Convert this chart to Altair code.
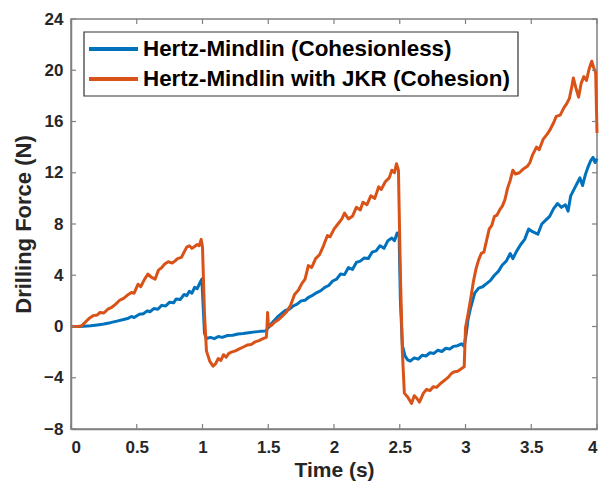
import altair as alt
import pandas as pd

SERIES = ["Hertz-Mindlin (Cohesionless)", "Hertz-Mindlin with JKR (Cohesion)"]
COLORS = ["#0072BD", "#D95319"]

blue_t = [0.00, 0.05, 0.10, 0.15, 0.20, 0.25, 0.30, 0.35, 0.40, 0.43, 0.46, 0.48, 0.52, 0.55, 0.58, 0.60,
          0.63, 0.66, 0.69, 0.72, 0.75, 0.78, 0.80, 0.83, 0.86, 0.88, 0.90, 0.92, 0.94, 0.96, 0.98, 0.995,
          1.015, 1.03, 1.06, 1.09, 1.12, 1.15, 1.19, 1.23, 1.27, 1.31, 1.35, 1.40, 1.44, 1.48, 1.50, 1.53,
          1.57, 1.60, 1.63, 1.66, 1.69, 1.72, 1.75, 1.78, 1.81, 1.84, 1.87, 1.90, 1.93, 1.96, 1.99, 2.02,
          2.05, 2.08, 2.11, 2.14, 2.17, 2.20, 2.23, 2.26, 2.29, 2.32, 2.35, 2.38, 2.41, 2.44, 2.46, 2.48,
          2.495, 2.505, 2.52, 2.54, 2.56, 2.58, 2.61, 2.64, 2.67, 2.70, 2.73, 2.76, 2.79, 2.82, 2.85, 2.88,
          2.91, 2.94, 2.97, 2.99, 3.005, 3.02, 3.04, 3.07, 3.10, 3.13, 3.16, 3.19, 3.22, 3.25, 3.28, 3.31,
          3.34, 3.36, 3.39, 3.42, 3.45, 3.48, 3.51, 3.55, 3.58, 3.61, 3.64, 3.67, 3.70, 3.73, 3.76, 3.78,
          3.80, 3.83, 3.85, 3.87, 3.89, 3.91, 3.93, 3.95, 3.97, 3.985, 4.00]
blue_y = [0.00, 0.00, 0.02, 0.05, 0.12, 0.20, 0.30, 0.42, 0.55, 0.62, 0.78, 0.70, 0.95, 1.00, 1.22, 1.15,
          1.40, 1.35, 1.65, 1.60, 1.90, 1.85, 2.15, 2.10, 2.50, 2.40, 2.75, 2.60, 3.05, 2.95, 3.40, 3.70,
          -0.50, -0.95, -0.85, -0.95, -0.78, -0.85, -0.70, -0.68, -0.58, -0.55, -0.48, -0.42, -0.38, -0.35, -0.10, 0.30,
          0.75, 1.00, 1.25, 1.35, 1.60, 1.75, 2.00, 2.05, 2.30, 2.45, 2.65, 2.80, 3.05, 3.20, 3.55, 3.70,
          4.10, 4.05, 4.60, 4.45, 5.00, 5.10, 5.35, 5.30, 5.80, 5.90, 6.30, 6.10, 6.70, 6.90, 6.70, 7.30,
          7.20, 2.00, -1.50, -2.30, -2.60, -2.70, -2.45, -2.55, -2.25, -2.30, -2.05, -2.10, -1.85, -1.95, -1.70, -1.75,
          -1.55, -1.50, -1.35, -1.55, -0.60, 0.60, 1.50, 2.60, 3.00, 3.10, 3.35, 3.60, 4.00, 4.30, 4.80, 5.10,
          5.70, 5.30, 5.90, 6.40, 6.80, 7.60, 7.40, 7.20, 8.00, 8.30, 8.60, 9.20, 9.60, 9.30, 9.50, 9.00,
          10.2, 10.8, 11.2, 11.6, 11.0, 11.8, 12.4, 12.9, 13.2, 12.8, 13.1]

orange_t = [0.00, 0.05, 0.08, 0.11, 0.14, 0.17, 0.20, 0.22, 0.25, 0.28, 0.31, 0.34, 0.37, 0.40, 0.43, 0.46,
            0.48, 0.51, 0.53, 0.56, 0.585, 0.61, 0.64, 0.665, 0.69, 0.71, 0.74, 0.77, 0.79, 0.81, 0.84, 0.86,
            0.88, 0.90, 0.92, 0.94, 0.96, 0.975, 0.99, 1.00, 1.015, 1.03, 1.055, 1.08, 1.10, 1.12, 1.14, 1.16,
            1.18, 1.20, 1.22, 1.25, 1.28, 1.31, 1.34, 1.37, 1.40, 1.43, 1.46, 1.485, 1.49, 1.495, 1.50, 1.52,
            1.55, 1.58, 1.61, 1.64, 1.67, 1.70, 1.73, 1.755, 1.78, 1.805, 1.83, 1.86, 1.89, 1.92, 1.95, 1.97,
            2.00, 2.03, 2.06, 2.08, 2.11, 2.14, 2.17, 2.20, 2.22, 2.25, 2.28, 2.31, 2.34, 2.36, 2.39, 2.42,
            2.44, 2.46, 2.475, 2.49, 2.505, 2.52, 2.535, 2.56, 2.59, 2.61, 2.63, 2.65, 2.68, 2.705, 2.73, 2.755,
            2.78, 2.81, 2.84, 2.87, 2.89, 2.91, 2.94, 2.96, 2.99, 3.00, 3.02, 3.04, 3.06, 3.08, 3.10, 3.12,
            3.14, 3.16, 3.18, 3.20, 3.22, 3.24, 3.26, 3.28, 3.30, 3.32, 3.34, 3.36, 3.38, 3.41, 3.44, 3.47,
            3.49, 3.51, 3.54, 3.56, 3.59, 3.62, 3.64, 3.67, 3.69, 3.72, 3.75, 3.77, 3.79, 3.81, 3.82, 3.84,
            3.86, 3.88, 3.90, 3.92, 3.94, 3.96, 3.975, 3.99, 4.00]
orange_y = [0.00, 0.00, 0.05, 0.35, 0.65, 0.85, 0.90, 1.10, 1.05, 1.35, 1.50, 1.75, 2.05, 2.20, 2.45, 2.65,
            2.60, 3.30, 3.10, 3.70, 4.10, 3.85, 3.70, 4.40, 4.60, 4.85, 5.05, 4.95, 5.10, 5.30, 5.40, 5.80,
            6.20, 6.30, 6.10, 6.25, 6.40, 6.30, 6.80, 6.20, 1.00, -1.90, -2.70, -3.10, -2.90, -2.50, -2.65, -2.20,
            -2.40, -2.10, -2.00, -1.90, -1.75, -1.60, -1.45, -1.40, -1.20, -1.10, -0.95, -0.85, -0.20, 1.10, 0.20, 0.05,
            0.35, 0.55, 0.85, 1.15, 1.65, 2.50, 2.85, 3.35, 3.70, 4.75, 4.60, 5.30, 5.60, 6.30, 7.10, 7.00,
            7.60, 8.00, 8.40, 8.85, 8.40, 8.60, 9.30, 9.10, 9.70, 9.50, 10.20, 10.00, 10.90, 10.70, 11.30, 11.60,
            12.20, 12.00, 12.70, 12.20, 4.00, -2.00, -5.20, -5.50, -6.00, -5.40, -5.60, -5.90, -5.20, -4.90, -5.00, -4.70,
            -4.75, -4.45, -4.20, -3.95, -3.70, -3.55, -3.50, -3.35, -3.15, -0.10, 1.00, 2.20, 3.50, 4.50, 5.20, 5.70,
            5.80, 6.70, 7.60, 7.90, 8.60, 8.70, 9.10, 9.40, 9.90, 10.80, 11.40, 12.20, 11.90, 12.00, 12.30, 12.50,
            12.80, 13.40, 14.00, 13.80, 14.60, 15.00, 15.30, 15.90, 16.40, 16.50, 17.10, 17.40, 17.80, 18.80, 19.40, 18.60,
            17.90, 19.00, 19.50, 19.20, 20.10, 20.70, 20.20, 19.80, 15.10]

x_ticks = [0, 0.5, 1, 1.5, 2, 2.5, 3, 3.5, 4]
y_ticks = [-8, -4, 0, 4, 8, 12, 16, 20, 24]

df = pd.concat([
    pd.DataFrame({"t": blue_t, "y": blue_y, "s": SERIES[0], "o": range(len(blue_t))}),
    pd.DataFrame({"t": orange_t, "y": orange_y, "s": SERIES[1], "o": range(len(orange_t))}),
])

FONT = "Liberation Sans"
AX = "#808080"
W, H = 526, 410

xs = alt.Scale(domain=[0, 4], nice=False)
ys = alt.Scale(domain=[-8, 24], nice=False)
cs = alt.Scale(domain=SERIES, range=COLORS)

x_axis = alt.Axis(
    values=x_ticks, format="~g", title="Time (s)", ticks=False, grid=False,
    labelFontSize=17, labelFontWeight="bold", labelPadding=10, labelColor="#262626",
    titleFontSize=21, titleFontWeight="bold", titlePadding=4, titleColor="#262626",
    domainColor=AX, domainWidth=1.5, labelFont=FONT, titleFont=FONT)

lines = alt.Chart(df).mark_line(strokeWidth=3, strokeJoin="round").encode(
    x=alt.X("t:Q", scale=xs, axis=x_axis),
    y=alt.Y("y:Q", scale=ys, axis=alt.Axis(
        values=y_ticks, format="d", title="Drilling Force (N)", ticks=False, grid=False,
        labelFontSize=17, labelFontWeight="bold", labelPadding=8, labelColor="#262626",
        titleFontSize=22, titleFontWeight="bold", titlePadding=8, titleColor="#262626",
        domainColor=AX, domainWidth=1.5, labelFont=FONT, titleFont=FONT)),
    color=alt.Color("s:N", scale=cs, legend=None),
    order="o:Q",
)

# box-style inward ticks on all four sides
xt = pd.DataFrame({"v": x_ticks})
yt = pd.DataFrame({"v": y_ticks})
tick_style = dict(color=AX, strokeWidth=1.2)
xb = alt.Chart(xt).mark_rule(**tick_style).encode(
    x=alt.X("v:Q", scale=xs, axis=x_axis), y=alt.value(H), y2=alt.value(H - 5))
xtop = alt.Chart(xt).mark_rule(**tick_style).encode(
    x=alt.X("v:Q", scale=xs, axis=x_axis), y=alt.value(0), y2=alt.value(5))
yl = alt.Chart(yt).mark_rule(**tick_style).encode(
    y=alt.Y("v:Q", scale=ys, axis=None), x=alt.value(0), x2=alt.value(5))
yr = alt.Chart(yt).mark_rule(**tick_style).encode(
    y=alt.Y("v:Q", scale=ys, axis=None), x=alt.value(W), x2=alt.value(W - 5))

# legend (MATLAB-style box, top-left inside the axes)
leg = pd.DataFrame({"s": SERIES})
row = alt.Scale(type="point", domain=SERIES, range=[30, 60], padding=0)
box = alt.Chart(pd.DataFrame({"k": [0]})).mark_rect(
    fill="white", stroke="#333333", strokeWidth=1.2).encode(
    x=alt.value(13), x2=alt.value(447), y=alt.value(13), y2=alt.value(77))
leg_lines = alt.Chart(leg).mark_rule(strokeWidth=4).encode(
    x=alt.value(18), x2=alt.value(67),
    y=alt.Y("s:N", scale=row, axis=None),
    color=alt.Color("s:N", scale=cs, legend=None))
leg_text = alt.Chart(leg).mark_text(
    align="left", baseline="middle", font=FONT, fontSize=22.4, fontWeight="bold", color="#000000").encode(
    x=alt.value(72),
    y=alt.Y("s:N", scale=row, axis=None),
    text="s:N")

legend = alt.layer(leg_lines, leg_text)

chart = alt.layer(lines, xb, xtop, yl, yr, box, legend).resolve_scale(y="independent").properties(
    width=W, height=H,
    autosize=alt.AutoSizeParams(type="none"),
    padding={"left": 71, "top": 19, "right": 6, "bottom": 62},
    background="white",
).configure_view(stroke=AX, strokeWidth=1.5)

chart.save("out.html", embed_options={"renderer": "svg", "actions": False})
